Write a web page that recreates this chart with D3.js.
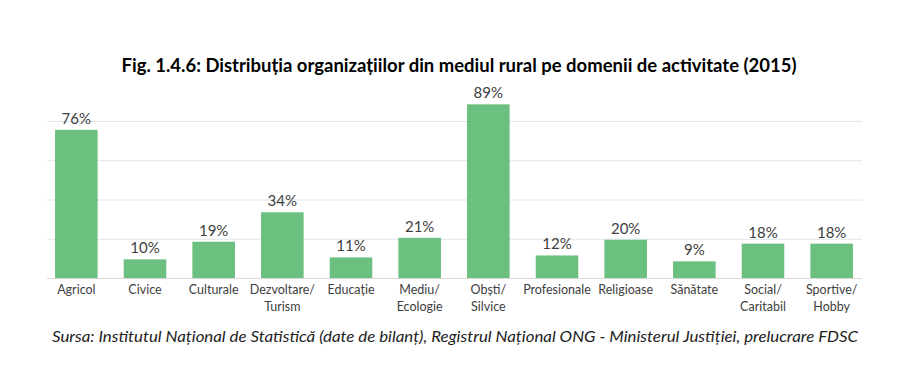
<!DOCTYPE html>
<html>
<head>
<meta charset="utf-8">
<script src="https://cdn.jsdelivr.net/npm/d3@7"></script>
<style>
  body { margin: 0; background: #fff; }
  text { font-family: Lato, "Open Sans", sans-serif; }
</style>
</head>
<body>
<svg id="chart" width="914" height="370"></svg>
<script>
const categories = ['Agricol', 'Civice', 'Culturale', 'Dezvoltare/\nTurism', 'Educație', 'Mediu/\nEcologie',
  'Obști/\nSilvice', 'Profesionale', 'Religioase', 'Sănătate', 'Social/\nCaritabil', 'Sportive/\nHobby']
const values = [76, 10, 19, 34, 11, 21, 89, 12, 20, 9, 18, 18]
const gridTicks = [0, 20, 40, 60, 80]

const title = 'Fig. 1.4.6: Distribuția organizațiilor din mediul rural pe domenii de activitate (2015)'
const source = 'Sursa: Institutul Național de Statistică (date de bilanț), Registrul Național ONG - Ministerul Justiției, prelucrare FDSC'

let svg = d3.select('#chart')

let x = d3.scaleBand()
  .domain(categories)
  .range([42, 866])
  .paddingInner(0.38)
  .paddingOuter(0.19)

let y = d3.scaleLinear()
  .domain([0, 80])
  .range([278, 121])

// gridlines
svg.append('g')
  .selectAll('line')
  .data(gridTicks)
  .enter()
  .append('line')
  .attr('x1', 47)
  .attr('x2', 862)
  .attr('y1', d => y(d) + 0.5)
  .attr('y2', d => y(d) + 0.5)
  .attr('stroke', d => d === 0 ? '#d9d9d9' : '#dde6ea')
  .attr('stroke-width', 1)

// bars
svg.append('g')
  .selectAll('rect')
  .data(values)
  .enter()
  .append('rect')
  .attr('x', (d, i) => x(categories[i]))
  .attr('width', x.bandwidth())
  .attr('y', d => y(d) + 1)
  .attr('height', d => y(0) - y(d) - 1)
  .attr('fill', '#6cc07f')

// value labels
svg.append('g')
  .selectAll('text')
  .data(values)
  .enter()
  .append('text')
  .attr('x', (d, i) => x(categories[i]) + x.bandwidth() / 2)
  .attr('y', d => y(d) - 5)
  .attr('text-anchor', 'middle')
  .attr('font-size', 15)
  .attr('fill', '#404040')
  .text(d => d + '%')

// category labels
let cat = svg.append('g')
  .selectAll('text')
  .data(categories)
  .enter()
  .append('text')
  .attr('text-anchor', 'middle')
  .attr('font-size', 12.5)
  .attr('fill', '#404040')

cat.selectAll('tspan')
  .data(d => d.split('\n').map(t => ({ t, c: d })))
  .enter()
  .append('tspan')
  .attr('x', d => x(d.c) + x.bandwidth() / 2)
  .attr('y', (d, i) => 294 + i * 17)
  .text(d => d.t)

svg.append('text')
  .attr('x', 459)
  .attr('y', 72)
  .attr('text-anchor', 'middle')
  .attr('font-size', 18)
  .attr('font-weight', 'bold')
  .attr('fill', '#000')
  .attr('textLength', 675)
  .attr('lengthAdjust', 'spacingAndGlyphs')
  .text(title)

svg.append('text')
  .attr('x', 455)
  .attr('y', 342)
  .attr('text-anchor', 'middle')
  .attr('font-size', 15)
  .attr('font-style', 'italic')
  .attr('fill', '#222')
  .attr('textLength', 806)
  .attr('lengthAdjust', 'spacingAndGlyphs')
  .text(source)
</script>
</body>
</html>
